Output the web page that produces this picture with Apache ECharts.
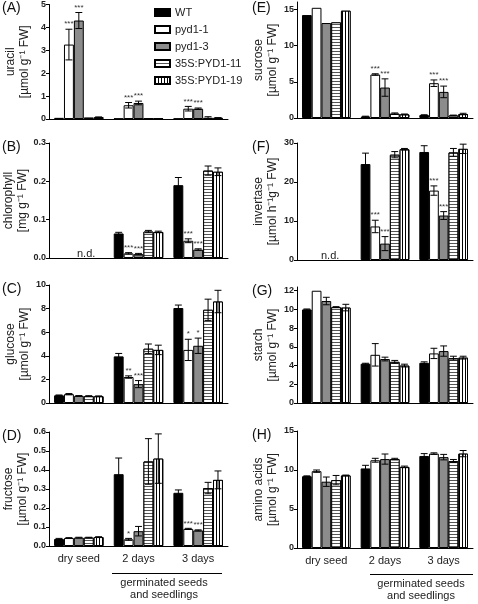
<!DOCTYPE html>
<html><head><meta charset="utf-8">
<script src="https://cdn.jsdelivr.net/npm/echarts@6/dist/echarts.min.js"></script>
<style>html,body{margin:0;padding:0;background:#fff}#c{width:478px;height:604px}</style>
</head><body><div id="c"></div>
<script>
const categories = ['dry seed', '2 days', '3 days'];
const seriesNames = ['WT', 'pyd1-1', 'pyd1-3', '35S:PYD1-11', '35S:PYD1-19'];

// rows = series (WT, pyd1-1, pyd1-3, 35S:PYD1-11, 35S:PYD1-19), columns = categories
const uracilMean = [[0.05,0.02,0.02],[3.25,0.6,0.45],[4.3,0.7,0.45],[0.06,0.02,0.05],[0.08,0.02,0.05]];
const uracilErr  = [[0,0,0],[0.67,0.12,0.1],[0.35,0.08,0.03],[0,0,0.05],[0.01,0,0.01]];
const uracilStars = [['','',''],['***','***','***'],['***','***','***'],['','',''],['','','']];

const chlorophyllMean = [[null,0.064,0.19],[null,0.012,0.045],[null,0.010,0.022],[null,0.069,0.228],[null,0.068,0.225]];
const chlorophyllErr  = [[0,0.003,0.02],[0,0.002,0.005],[0,0.002,0.002],[0,0.003,0.012],[0,0.002,0.01]];
const chlorophyllStars = [['','',''],['','***','***'],['','***','***'],['','',''],['','','']];

const glucoseMean = [[0.65,3.95,8.05],[0.75,2.2,4.5],[0.6,1.6,4.85],[0.58,4.6,7.9],[0.57,4.5,8.6]];
const glucoseErr  = [[0.03,0.25,0.25],[0.05,0.1,0.9],[0.03,0.3,0.65],[0.04,0.4,0.9],[0.03,0.4,0.95]];
const glucoseStars = [['','',''],['','**','*'],['','***','*'],['','',''],['','','']];

const fructoseMean = [[0.037,0.378,0.28],[0.042,0.035,0.09],[0.044,0.078,0.082],[0.044,0.445,0.305],[0.047,0.46,0.348]];
const fructoseErr  = [[0.003,0.085,0.015],[0.002,0.005,0.003],[0.002,0.025,0.003],[0.002,0.12,0.03],[0.002,0.13,0.047]];
const fructoseStars = [['','',''],['','*','***'],['','','***'],['','',''],['','','']];

const sucroseMean = [[14.2,0.2,0.4],[15.2,6.0,4.8],[13.1,4.2,3.6],[13.2,0.6,0.35],[14.8,0.5,0.55]];
const sucroseErr  = [[0,0.05,0.05],[0,0.1,0.45],[0,1.2,0.8],[0,0.1,0.05],[0,0.05,0.1]];
const sucroseStars = [['','',''],['','***','***'],['','***','***'],['','',''],['','','']];

const invertaseMean = [[null,24.6,27.7],[null,8.6,17.8],[null,4.2,11.4],[null,27.0,27.6],[null,28.4,28.5]];
const invertaseErr  = [[0,2.8,1.6],[0,1.6,1.2],[0,1.8,1.0],[0,0.8,1.0],[0,0.2,1.2]];
const invertaseStars = [['','',''],['','***','***'],['','***','***'],['','',''],['','','']];

const starchMean = [[10.0,4.2,4.3],[12.0,5.15,5.3],[10.9,4.7,5.55],[10.25,4.4,4.8],[10.2,4.0,4.85]];
const starchErr  = [[0.05,0.05,0.1],[0,1.2,0.55],[0.4,0.2,0.55],[0.05,0.15,0.2],[0.35,0.15,0.15]];
const starchStars = [['','',''],['','',''],['','',''],['','',''],['','','']];

const aminoMean = [[9.2,10.2,11.8],[9.85,11.25,12.1],[8.5,11.4,11.65],[8.7,11.4,11.15],[9.3,10.4,12.1]];
const aminoErr  = [[0.05,0.4,0.3],[0.15,0.25,0.1],[0.6,0.65,0.35],[0.6,0.1,0.2],[0.05,0.1,0.4]];
const aminoStars = [['','',''],['','',''],['','',''],['','',''],['','','']];

const panels = [
  {tag:'(A)', name:'uracil', unit:'[µmol g⁻¹ FW]', mean:uracilMean, err:uracilErr, stars:uracilStars, max:5, interval:1, dec:0, grid:{left:49, width:179, top:3, height:116}, xlab:false},
  {tag:'(B)', name:'chlorophyll', unit:'[mg g⁻¹ FW]', mean:chlorophyllMean, err:chlorophyllErr, stars:chlorophyllStars, max:0.3, interval:0.1, dec:1, grid:{left:49, width:179, top:143, height:115}, xlab:false},
  {tag:'(C)', name:'glucose', unit:'[µmol g⁻¹ FW]', mean:glucoseMean, err:glucoseErr, stars:glucoseStars, max:10, interval:2, dec:0, grid:{left:49, width:179, top:285, height:118}, xlab:false},
  {tag:'(D)', name:'fructose', unit:'[µmol g⁻¹ FW]', mean:fructoseMean, err:fructoseErr, stars:fructoseStars, max:0.6, interval:0.1, dec:1, grid:{left:49, width:179, top:432, height:114}, xlab:true},
  {tag:'(E)', name:'sucrose', unit:'[µmol g⁻¹ FW]', mean:sucroseMean, err:sucroseErr, stars:sucroseStars, max:16, interval:5, dec:0, grid:{left:297, width:176, top:2, height:116}, xlab:false},
  {tag:'(F)', name:'invertase', unit:'[µmol h⁻¹g⁻¹ FW]', mean:invertaseMean, err:invertaseErr, stars:invertaseStars, max:30, interval:10, dec:0, grid:{left:297, width:176, top:143, height:117}, xlab:false},
  {tag:'(G)', name:'starch', unit:'[µmol g⁻¹ FW]', mean:starchMean, err:starchErr, stars:starchStars, max:12.4, interval:2, dec:0, grid:{left:297, width:176, top:287, height:116}, xlab:false},
  {tag:'(H)', name:'amino acids', unit:'[µmol g⁻¹ FW]', mean:aminoMean, err:aminoErr, stars:aminoStars, max:15, interval:5, dec:0, grid:{left:297, width:176, top:431, height:117}, xlab:true}
];

const FONT = 'Liberation Sans, Arial, sans-serif';
const GAP = 0.17;
const seriesStyles = [
  {color:'#000', borderColor:'#000', borderWidth:1},
  {color:'#fff', borderColor:'#000', borderWidth:1},
  {color:'#8c8c8c', borderColor:'#000', borderWidth:1},
  {color:'#fff', borderColor:'#000', borderWidth:1,
    decal:{symbol:'rect', symbolSize:1, color:'#555', backgroundColor:'#fff', dashArrayX:[1,0], dashArrayY:[1,2], rotation:0}},
  {color:'#fff', borderColor:'#000', borderWidth:1,
    decal:{symbol:'rect', symbolSize:1, color:'#000', backgroundColor:'#fff', dashArrayX:[1,2], dashArrayY:[1,0], rotation:0}}
];

const grids = [], xAxes = [], yAxes = [], series = [], graphics = [];
panels.forEach((p, gi) => {
  grids.push(Object.assign({containLabel:false}, p.grid));
  xAxes.push({type:'category', gridIndex:gi, data:categories,
    axisLine:{show:true, lineStyle:{color:'#000', width:1}}, axisTick:{show:false},
    axisLabel:{show:p.xlab, fontSize:11, color:'#222', margin:7, fontFamily:FONT}});
  yAxes.push({type:'value', gridIndex:gi, min:0, max:p.max, interval:p.interval,
    name:p.name + '\n' + p.unit, nameLocation:'middle', nameGap:17, nameRotate:90,
    nameTextStyle:{fontSize:12, color:'#222', lineHeight:14, fontFamily:FONT},
    axisLine:{show:true, lineStyle:{color:'#000', width:1}},
    axisTick:{show:true, length:3, lineStyle:{color:'#000'}},
    splitLine:{show:false},
    axisLabel:{fontSize:9, fontWeight:'bold', color:'#222', margin:3, fontFamily:FONT,
      formatter: v => v.toFixed(p.dec)}});
  p.mean.forEach((row, s) => {
    series.push({type:'bar', name:seriesNames[s], xAxisIndex:gi, yAxisIndex:gi,
      data:row, barGap:'0%', barCategoryGap:(GAP*100)+'%', itemStyle:seriesStyles[s], silent:true, animation:false});
  });
  const data = [], starList = [];
  p.mean.forEach((row, s) => row.forEach((v, c) => {
    if (v != null) { data.push([c, v, p.err[s][c], s]); starList.push(p.stars[s][c]); }
  }));
  series.push({type:'custom', xAxisIndex:gi, yAxisIndex:gi, z:5, silent:true, animation:false,
    data, encode:{x:0, y:1},
    renderItem(params, api) {
      const c = api.value(0), v = api.value(1), e = api.value(2), s = api.value(3);
      const band = api.size([1, 0])[0];
      const bw = band * (1 - GAP) / 5;
      const cx = api.coord([c, v])[0] + (s - 2) * bw;
      const yTop = api.coord([c, v + e])[1];
      const children = [];
      if (e > 0) {
        const yBot = api.coord([c, Math.max(v - e, 0)])[1];
        const hw = bw * 0.35;
        const ls = {stroke:'#000', lineWidth:1};
        children.push({type:'line', shape:{x1:cx, y1:yTop, x2:cx, y2:yBot}, style:ls});
        children.push({type:'line', shape:{x1:cx-hw, y1:yTop, x2:cx+hw, y2:yTop}, style:ls});
        children.push({type:'line', shape:{x1:cx-hw, y1:yBot, x2:cx+hw, y2:yBot}, style:ls});
      }
      const star = starList[params.dataIndex];
      if (star) children.push({type:'text', style:{text:star, x:cx, y:yTop - 1, align:'center', verticalAlign:'bottom',
        fontSize:8, fill:'#333', fontFamily:FONT}});
      return {type:'group', children};
    }});
  const colLeft = p.grid.left < 100 ? 2 : 252;
  graphics.push({type:'text', left:colLeft, top:p.grid.top < 10 ? 1 : p.grid.top - 3,
    style:{text:p.tag, fontSize:14, fill:'#111', fontFamily:FONT}});
});

graphics.push({type:'text', left:77, top:248, style:{text:'n.d.', fontSize:11, fill:'#222', fontFamily:FONT}});
graphics.push({type:'text', left:321, top:250, style:{text:'n.d.', fontSize:11, fill:'#222', fontFamily:FONT}});
graphics.push({type:'line', shape:{x1:112, y1:573.5, x2:222, y2:573.5}, style:{stroke:'#000', lineWidth:1}});
graphics.push({type:'line', shape:{x1:370, y1:574.5, x2:473, y2:574.5}, style:{stroke:'#000', lineWidth:1}});
graphics.push({type:'text', x:164, y:577, style:{text:'germinated seeds\nand seedlings', align:'center', fontSize:11, lineHeight:12, fill:'#222', fontFamily:FONT}});
graphics.push({type:'text', x:421, y:578, style:{text:'germinated seeds\nand seedlings', align:'center', fontSize:11, lineHeight:12, fill:'#222', fontFamily:FONT}});

const chart = echarts.init(document.getElementById('c'), null, {renderer:'canvas'});
chart.setOption({
  animation:false,
  textStyle:{fontFamily:FONT},
  legend:{data:seriesNames, orient:'vertical', left:149, top:2, itemWidth:15, itemHeight:7, itemGap:6,
    textStyle:{fontSize:11, color:'#222', fontFamily:FONT}, icon:'rect', selectedMode:false},
  grid:grids, xAxis:xAxes, yAxis:yAxes, series, graphic:graphics
});
</script></body></html>
